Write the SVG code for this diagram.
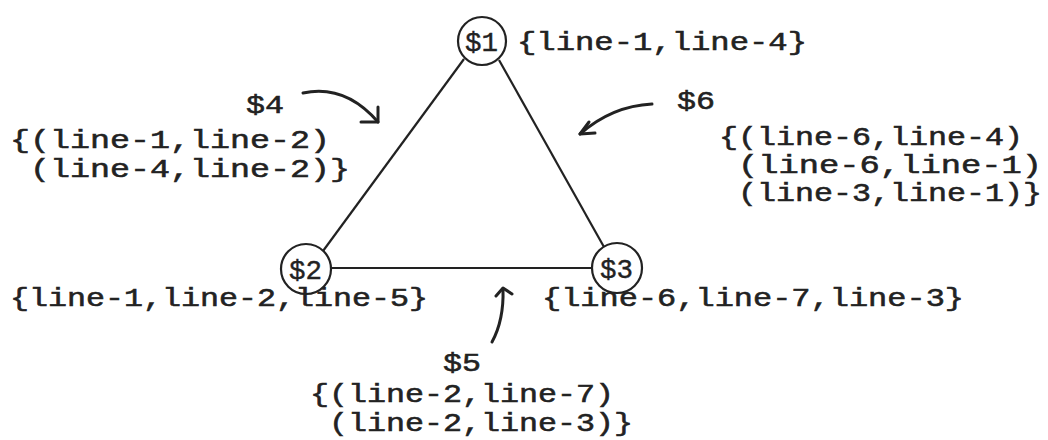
<svg xmlns="http://www.w3.org/2000/svg" width="1048" height="440" viewBox="0 0 1048 440">
<style>
.t{font-family:"Liberation Mono","DejaVu Sans Mono",monospace;font-size:25px;fill:#222;stroke:#222;stroke-width:0.55}
.n{font-family:"Liberation Mono","DejaVu Sans Mono",monospace;font-size:27px;fill:#222;stroke:#222;stroke-width:0.4}
.c{fill:#fff;stroke:#222;stroke-width:2.2}
.e{stroke:#222;stroke-width:2.2;fill:none}
.a{stroke:#222;stroke-width:3;fill:none;stroke-linecap:round;stroke-linejoin:round}
</style>
<rect width="1048" height="440" fill="#fff"/>
<g id="connectors">
<line class="e" x1="464" y1="59" x2="323" y2="251"/>
<line class="e" x1="499" y1="60" x2="604" y2="247"/>
<line class="e" x1="331" y1="268" x2="592" y2="268"/>
</g>
<g id="arrows">
<path class="a" d="M303,93 Q345,84 378,122"/>
<path class="a" d="M361,122 L378,122 L378,107"/>
<path class="a" d="M652,104 Q612,106 580,134"/>
<path class="a" d="M589,122 L580,134 L595,133"/>
<path class="a" d="M492,342 Q504,320 503,289"/>
<path class="a" d="M496,296 L503,288 L512,294"/>
</g>
<g id="node-s1">
<circle class="c" cx="482" cy="41" r="24"/>
<text class="n" x="465" y="51" textLength="33" lengthAdjust="spacingAndGlyphs">$1</text>
<text class="t" x="517" y="50" textLength="290" lengthAdjust="spacingAndGlyphs">{line-1,line-4}</text>
</g>
<g id="node-s2">
<circle class="c" cx="306" cy="269" r="25"/>
<text class="n" x="289" y="279" textLength="33" lengthAdjust="spacingAndGlyphs">$2</text>
<text class="t" x="10" y="306" textLength="418" lengthAdjust="spacingAndGlyphs">{line-1,line-2,line-5}</text>
</g>
<g id="node-s3">
<circle class="c" cx="617" cy="268" r="25"/>
<text class="n" x="600" y="278" textLength="33" lengthAdjust="spacingAndGlyphs">$3</text>
<text class="t" x="542" y="306" textLength="422" lengthAdjust="spacingAndGlyphs">{line-6,line-7,line-3}</text>
</g>
<g id="label-s4">
<text class="t" x="246" y="113" textLength="38" lengthAdjust="spacingAndGlyphs">$4</text>
<text class="t" x="10" y="148" textLength="320" lengthAdjust="spacingAndGlyphs">{(line-1,line-2)</text>
<text class="t" x="30" y="177" textLength="320" lengthAdjust="spacingAndGlyphs">(line-4,line-2)}</text>
</g>
<g id="label-s6">
<text class="t" x="677" y="109" textLength="38" lengthAdjust="spacingAndGlyphs">$6</text>
<text class="t" x="719" y="145" textLength="304" lengthAdjust="spacingAndGlyphs">{(line-6,line-4)</text>
<text class="t" x="738" y="173" textLength="304" lengthAdjust="spacingAndGlyphs">(line-6,line-1)</text>
<text class="t" x="738" y="201" textLength="304" lengthAdjust="spacingAndGlyphs">(line-3,line-1)}</text>
</g>
<g id="label-s5">
<text class="t" x="443" y="371" textLength="38" lengthAdjust="spacingAndGlyphs">$5</text>
<text class="t" x="310" y="402" textLength="304" lengthAdjust="spacingAndGlyphs">{(line-2,line-7)</text>
<text class="t" x="329" y="431" textLength="304" lengthAdjust="spacingAndGlyphs">(line-2,line-3)}</text>
</g>
</svg>
